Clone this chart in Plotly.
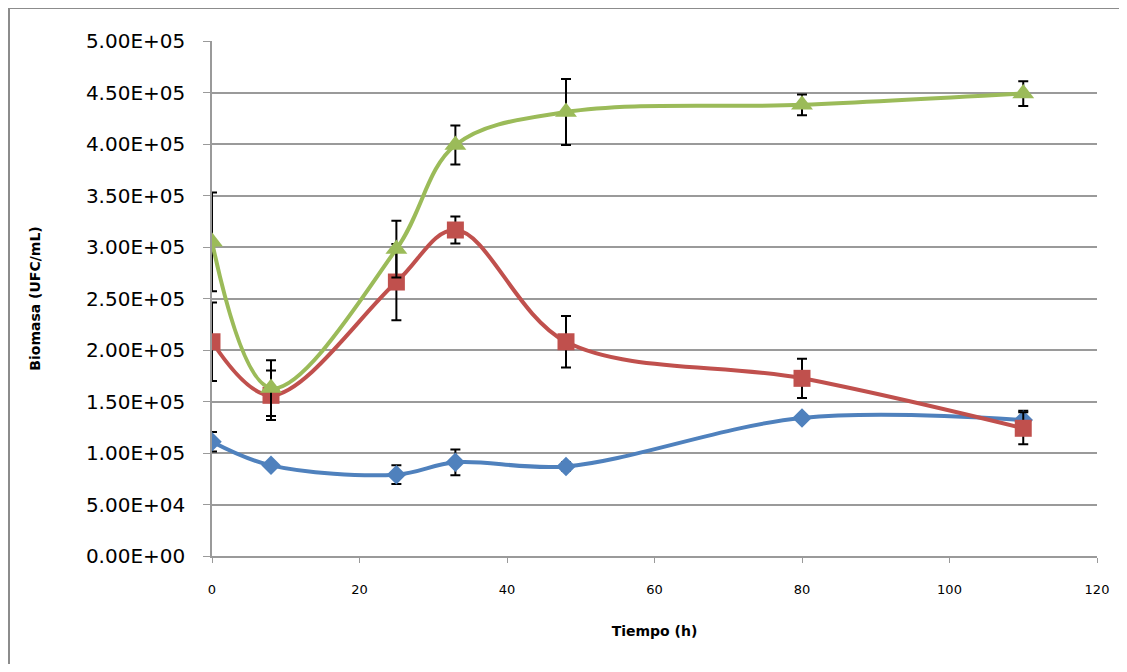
import plotly.graph_objects as go

time_h = [0, 8, 25, 33, 48, 80, 110]

blue_vals = [1.11e5, 8.8e4, 7.9e4, 9.1e4, 8.7e4, 1.34e5, 1.32e5]
blue_err = [9.5e3, 3e3, 9e3, 1.25e4, 4e3, 3e3, 9e3]

red_vals = [2.08e5, 1.56e5, 2.66e5, 3.165e5, 2.08e5, 1.725e5, 1.24e5]
red_err = [3.8e4, 2.4e4, 3.7e4, 1.3e4, 2.5e4, 1.9e4, 1.55e4]

green_vals = [3.05e5, 1.63e5, 2.98e5, 3.99e5, 4.31e5, 4.38e5, 4.49e5]
green_err = [4.8e4, 2.7e4, 2.75e4, 1.9e4, 3.2e4, 1.0e4, 1.2e4]

y_ticks = [0, 5e4, 1e5, 1.5e5, 2e5, 2.5e5, 3e5, 3.5e5, 4e5, 4.5e5, 5e5]
y_tick_text = ["0.00E+00", "5.00E+04", "1.00E+05", "1.50E+05", "2.00E+05",
               "2.50E+05", "3.00E+05", "3.50E+05", "4.00E+05", "4.50E+05", "5.00E+05"]
x_ticks = [0, 20, 40, 60, 80, 100, 120]

series = [
    (blue_vals, blue_err, "#4F81BD", "diamond", 15),
    (red_vals, red_err, "#C0504D", "square", 17),
    (green_vals, green_err, "#9BBB59", "triangle-up", 19),
]

fig = go.Figure()
for vals, err, color, sym, size in series:
    fig.add_trace(go.Scatter(
        x=time_h, y=vals, mode="lines+markers",
        line=dict(color=color, width=4, shape="spline", smoothing=1.0),
        marker=dict(color=color, symbol=sym, size=size),
        error_y=dict(type="data", array=err, visible=True, color="black",
                     thickness=2, width=5),
        showlegend=False,
    ))

grid_col = "#9A9A9A"
border = dict(color="#8C8C8C", width=2)
# page has an 8px body margin; plot area lands at x 212..1097, y 41..556
bx0 = (9 - 212) / 885
bx1 = (1130 - 212) / 885
by1 = (556 - 8) / 515
by0 = (556 - 675) / 515
fig.update_layout(
    width=1119, height=656,
    margin=dict(l=204, r=30, t=33, b=108),
    paper_bgcolor="white", plot_bgcolor="white",
    font=dict(family="DejaVu Sans", color="black"),
    xaxis=dict(range=[0, 120], tickvals=x_ticks, showgrid=False,
               showline=True, linecolor=grid_col, linewidth=1.5,
               ticks="outside", ticklen=5, tickcolor=grid_col,
               tickfont=dict(size=13, family="DejaVu Sans"),
               ticklabelstandoff=16, zeroline=False,
               title=dict(text="<b>Tiempo (h)</b>", font=dict(size=14), standoff=30)),
    yaxis=dict(range=[0, 5e5], tickvals=y_ticks, ticktext=y_tick_text,
               showgrid=True, gridcolor=grid_col, gridwidth=1.5,
               showline=True, linecolor=grid_col, linewidth=1.5,
               ticks="outside", ticklen=7, tickcolor=grid_col,
               tickfont=dict(size=20, family="DejaVu Sans"),
               ticklabelstandoff=14, zeroline=False,
               title=dict(text="<b>Biomasa (UFC/mL)</b>", font=dict(size=14), standoff=42)),
    shapes=[
        dict(type="line", xref="paper", yref="paper",
             x0=bx0, x1=bx0, y0=by0, y1=by1, line=border, layer="below"),
        dict(type="line", xref="paper", yref="paper",
             x0=bx0, x1=bx1, y0=by1, y1=by1, line=border, layer="below"),
    ],
)

fig.write_html("out.html")
